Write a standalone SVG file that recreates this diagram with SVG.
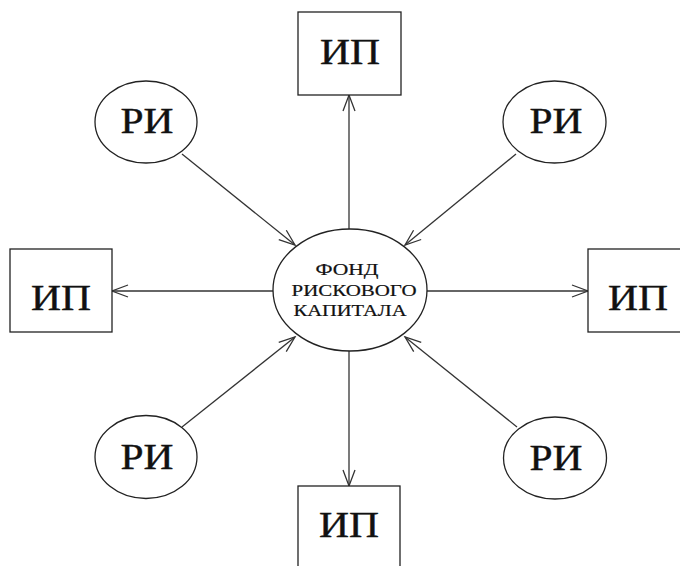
<svg xmlns="http://www.w3.org/2000/svg" width="680" height="566" viewBox="0 0 680 566">
<defs>
<style>
.n{fill:#fff;stroke:#222;stroke-width:1.3}
.c{fill:none;stroke:#333;stroke-width:1.3}
.big{font-family:"Liberation Serif","Times New Roman",serif;font-size:36px;fill:#111;stroke:#111;stroke-width:0.4;text-anchor:middle}
.small{font-family:"Liberation Serif","Times New Roman",serif;font-size:16px;fill:#111;stroke:#111;stroke-width:0.2;text-anchor:middle}
</style>
<marker id="ah" markerUnits="userSpaceOnUse" markerWidth="20" markerHeight="14" refX="16" refY="6" orient="auto" overflow="visible">
<path d="M0,0 L16,6 L0,12" fill="none" stroke="#333" stroke-width="1.3"/>
</marker>
</defs>
<rect width="680" height="566" fill="#fff"/>
<g id="connectors">
<line class="c" x1="349" y1="229" x2="349" y2="95" marker-end="url(#ah)"/>
<line class="c" x1="349" y1="351" x2="349" y2="486" marker-end="url(#ah)"/>
<line class="c" x1="273" y1="291" x2="112" y2="291" marker-end="url(#ah)"/>
<line class="c" x1="427" y1="291" x2="588" y2="291" marker-end="url(#ah)"/>
<line class="c" x1="182" y1="154" x2="295" y2="245" marker-end="url(#ah)"/>
<line class="c" x1="516" y1="154" x2="405" y2="245" marker-end="url(#ah)"/>
<line class="c" x1="182" y1="427" x2="295" y2="337" marker-end="url(#ah)"/>
<line class="c" x1="517" y1="427" x2="405" y2="337" marker-end="url(#ah)"/>
</g>
<g id="fund">
<ellipse class="n" cx="350" cy="290" rx="77" ry="61"/>
<text class="small" x="347" y="275" textLength="63" lengthAdjust="spacingAndGlyphs">ФОНД</text>
<text class="small" x="354" y="296" textLength="125" lengthAdjust="spacingAndGlyphs">РИСКОВОГО</text>
<text class="small" x="350" y="316" textLength="113" lengthAdjust="spacingAndGlyphs">КАПИТАЛА</text>
</g>
<g id="ip-top"><rect class="n" x="298" y="12" width="103" height="83"/><text class="big" x="350" y="64" textLength="60" lengthAdjust="spacingAndGlyphs">ИП</text></g>
<g id="ip-left"><rect class="n" x="10" y="249" width="102" height="83"/><text class="big" x="61" y="310" textLength="60" lengthAdjust="spacingAndGlyphs">ИП</text></g>
<g id="ip-right"><rect class="n" x="588" y="249" width="102" height="83"/><text class="big" x="638" y="310" textLength="60" lengthAdjust="spacingAndGlyphs">ИП</text></g>
<g id="ip-bottom"><rect class="n" x="298" y="486" width="102" height="90"/><text class="big" x="349" y="537" textLength="60" lengthAdjust="spacingAndGlyphs">ИП</text></g>
<g id="ri-tl"><ellipse class="n" cx="146" cy="122" rx="51" ry="41"/><text class="big" x="147" y="133" textLength="53" lengthAdjust="spacingAndGlyphs">РИ</text></g>
<g id="ri-tr"><ellipse class="n" cx="554.5" cy="122" rx="51.5" ry="41"/><text class="big" x="556" y="133" textLength="53" lengthAdjust="spacingAndGlyphs">РИ</text></g>
<g id="ri-bl"><ellipse class="n" cx="146" cy="457" rx="51" ry="41.5"/><text class="big" x="147" y="469" textLength="53" lengthAdjust="spacingAndGlyphs">РИ</text></g>
<g id="ri-br"><ellipse class="n" cx="555" cy="458" rx="51.5" ry="41"/><text class="big" x="556" y="470" textLength="53" lengthAdjust="spacingAndGlyphs">РИ</text></g>
</svg>
